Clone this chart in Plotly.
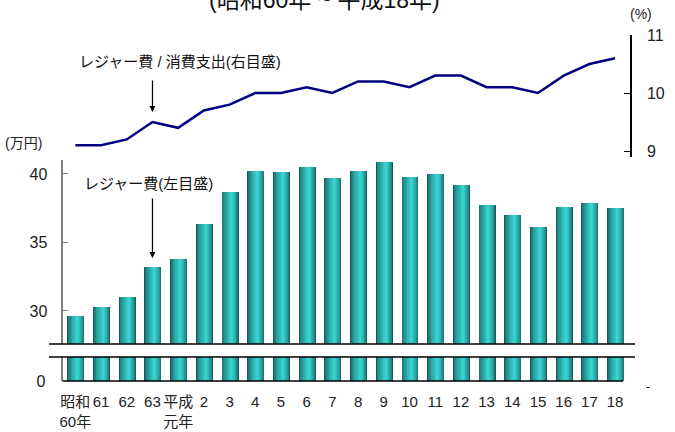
import plotly.graph_objects as go

# ---- data ----
year_labels = ["昭和<br>60年", "61", "62", "63", "平成<br>元年", "2", "3", "4", "5", "6", "7",
               "8", "9", "10", "11", "12", "13", "14", "15", "16", "17", "18"]
leisure_cost = [29.6, 30.3, 31.0, 33.2, 33.8, 36.35, 38.7, 40.2, 40.15, 40.5, 39.7,
                40.2, 40.9, 39.8, 40.0, 39.2, 37.7, 37.0, 36.1, 37.6, 37.9, 37.5]
leisure_ratio = [9.1, 9.1, 9.2, 9.5, 9.4, 9.7, 9.8, 10.0, 10.0, 10.1, 10.0,
                 10.2, 10.2, 10.1, 10.3, 10.3, 10.1, 10.1, 10.0, 10.3, 10.5, 10.6]
left_ticks = [30, 35, 40]
right_ticks = [9, 10, 11]

W, H = 675, 432
FONT = "Liberation Sans, Arial, Noto Sans CJK JP"
xs = list(range(len(year_labels)))


def px_x(p):
    return p / W


def px_y(p):
    return (H - p) / H


fig = go.Figure()

bw = 0.66
left = -bw / 2
peak = left + 0.6 * bw
dark = (0x16, 0x5c, 0x5d)
light = (0x38, 0xd2, 0xd0)
n_layers = 12
for yax in ["y", "y2"]:
    for k in range(n_layers):
        f = 1 - k / n_layers
        t = (k / (n_layers - 1)) ** 0.6
        c = tuple(int(dark[i] + (light[i] - dark[i]) * t) for i in range(3))
        l_edge = peak - f * (peak - left)
        r_edge = peak + f * (bw / 2 - peak)
        fig.add_trace(go.Bar(
            x=xs, y=leisure_cost, xaxis="x", yaxis=yax,
            width=r_edge - l_edge, offset=l_edge,
            marker=dict(color="rgb(%d,%d,%d)" % c, line=dict(width=0)),
            showlegend=False, hoverinfo="skip"))

fig.add_trace(go.Scatter(
    x=xs, y=leisure_ratio, xaxis="x2", yaxis="y3", mode="lines",
    line=dict(color="#000080", width=2.5), showlegend=False))

xdom = [px_x(62.5), px_x(630)]
xrange_ = [-0.5, 21.58]

fig.update_layout(
    width=W, height=H, margin=dict(l=0, r=0, t=0, b=0, pad=0, autoexpand=False),
    autosize=False,
    paper_bgcolor="white", plot_bgcolor="rgba(0,0,0,0)",
    barmode="overlay", bargap=0,
    font=dict(family=FONT, size=14, color="#222"),
    xaxis=dict(domain=xdom, range=xrange_, anchor="y2", automargin=False,
               tickmode="array", tickvals=xs, ticktext=year_labels,
               tickangle=0,
               showline=False, showgrid=False, zeroline=False, ticks="",
               ticklabelstandoff=10,
               tickfont=dict(size=15), fixedrange=True),
    xaxis2=dict(domain=xdom, range=xrange_, anchor="y3", visible=False,
                overlaying="x", automargin=False),
    yaxis=dict(domain=[px_y(344), px_y(160)], range=[27.59, 41.02], anchor="x",
               automargin=False, tickmode="array", tickvals=left_ticks,
               showline=True, linecolor="#808080", linewidth=2,
               ticks="inside", ticklen=5, tickcolor="#808080",
               showgrid=False, zeroline=False, ticklabelstandoff=10,
               tickfont=dict(size=16)),
    yaxis2=dict(domain=[px_y(381), px_y(357)], range=[0, 1.75], anchor="x",
                automargin=False, tickmode="array", tickvals=[0],
                showline=True, linecolor="#808080", linewidth=2,
                ticks="", showgrid=False, zeroline=False, ticklabelstandoff=12,
                tickfont=dict(size=16)),
    yaxis3=dict(domain=[px_y(157), px_y(35)], range=[8.897, 11.0], anchor="x2",
                automargin=False, side="right", tickmode="array", tickvals=right_ticks,
                showline=True, linecolor="black", linewidth=1.5,
                ticks="inside", ticklen=6, tickcolor="black",
                showgrid=False, zeroline=False, ticklabelstandoff=12,
                tickfont=dict(size=16)),
)

shapes = []
for yy in [344, 357]:
    shapes.append(dict(type="line", xref="paper", yref="paper",
                       x0=px_x(49), x1=px_x(635), y0=px_y(yy), y1=px_y(yy),
                       line=dict(color="black", width=1.5)))
shapes.append(dict(type="line", xref="paper", yref="paper",
                   x0=px_x(62.5), x1=px_x(623), y0=px_y(381), y1=px_y(381),
                   line=dict(color="black", width=1.5)))
fig.update_layout(shapes=shapes)

ann = []
ann.append(dict(text="(昭和60年 ~ 平成18年)", xref="paper", yref="paper",
                x=px_x(324), y=px_y(0), xanchor="center", yanchor="middle",
                showarrow=False, font=dict(size=23, color="#111")))
ann.append(dict(text="(万円)", xref="paper", yref="paper",
                x=px_x(3), y=px_y(143), xanchor="left", yanchor="middle",
                showarrow=False, font=dict(size=14)))
ann.append(dict(text="(%)", xref="paper", yref="paper",
                x=px_x(641), y=px_y(14), xanchor="center", yanchor="middle",
                showarrow=False, font=dict(size=14)))
ann.append(dict(text="-", xref="paper", yref="paper",
                x=px_x(648), y=px_y(387), xanchor="center", yanchor="middle",
                showarrow=False, font=dict(size=12, color="black")))
ann.append(dict(text="レジャー費 / 消費支出(右目盛)", xref="paper", yref="paper",
                x=px_x(77), y=px_y(62), xanchor="left", yanchor="middle",
                showarrow=False, font=dict(size=15, color="#111")))
ann.append(dict(text="レジャー費(左目盛)", xref="paper", yref="paper",
                x=px_x(82), y=px_y(183), xanchor="left", yanchor="middle",
                showarrow=False, font=dict(size=15, color="#111")))
ann.append(dict(text="", xref="x", yref="paper", x=3, y=px_y(112),
                ax=0, ay=-33, showarrow=True, arrowhead=2, arrowsize=1,
                arrowwidth=1.2, arrowcolor="black"))
ann.append(dict(text="", xref="x", yref="paper", x=3, y=px_y(258),
                ax=0, ay=-61, showarrow=True, arrowhead=2, arrowsize=1,
                arrowwidth=1.2, arrowcolor="black"))
fig.update_layout(annotations=ann)

fig.write_html("out.html")
